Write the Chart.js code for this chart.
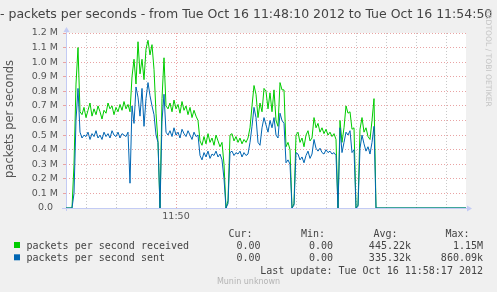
<!DOCTYPE html>
<html>
<head>
<meta charset="utf-8">
<script src="https://cdn.jsdelivr.net/npm/chart.js@4/dist/chart.umd.min.js"></script>
<style>
html,body{margin:0;padding:0;background:#f0f0f0;}
canvas{display:block;}
</style>
</head>
<body>
<canvas id="c" width="497" height="292"></canvas>
<script>
// ---- data (packets per second, in thousands), one sample every 2 s from 11:48:10 ----
const STEP_SECONDS = 2;
const received = [
  0,0,0,0,300,850,1100,660,640,690,620,670,720,630,680,640,700,660,610,670,
  650,720,680,700,640,690,660,710,670,730,680,710,660,900,1020,850,1140,920,1020,880,
  1090,1150,1050,1120,950,650,450,0,750,1030,700,680,720,660,740,680,710,650,730,670,
  700,640,690,620,670,630,600,460,430,490,440,510,450,480,430,500,460,420,450,300,
  0,50,500,510,460,490,450,480,440,470,450,480,550,700,840,780,620,720,660,820,
  800,680,790,660,810,600,560,860,810,810,420,450,400,0,30,500,520,450,480,420,
  500,530,460,480,620,550,580,520,550,510,540,500,520,490,510,470,0,600,450,550,
  700,650,660,540,550,0,20,540,620,520,550,490,470,600,750,0,
  0,0,0,0,0,0,0,0,0,0,0,0,0,0,0,0,0,0,0,0,0,0,0,0,0,0,0,0,0,0,0,0,0,0,0,0,0,0,0,0,0,0,0,0,0
];
const sent = [
  0,0,0,0,100,600,820,520,480,500,490,520,470,510,490,530,480,500,470,520,
  490,510,480,530,500,490,520,480,510,500,490,520,170,700,580,830,760,630,820,560,
  750,860,770,700,640,500,450,0,600,780,520,500,530,490,550,500,520,480,540,510,
  490,530,500,470,520,490,500,360,330,380,350,390,340,370,360,390,350,370,330,200,
  0,30,380,390,360,380,370,390,350,380,360,370,450,560,690,620,450,430,550,620,
  570,520,600,550,620,500,480,650,600,580,310,330,300,0,20,380,370,330,350,310,
  360,390,340,370,470,410,390,410,380,370,400,380,390,370,380,360,0,550,380,450,
  520,500,530,380,400,0,10,410,500,440,390,420,370,450,560,0,
  0,0,0,0,0,0,0,0,0,0,0,0,0,0,0,0,0,0,0,0,0,0,0,0,0,0,0,0,0,0,0,0,0,0,0,0,0,0,0,0,0,0,0,0,0
];
// vertical grid positions (seconds after 11:48:10) and labels
const gridSeconds = [20,50,80,110,140,170,200,230,260,290,320,350,380];
const timeLabels = {110: '11:50'};
const yTickLabels = ['0.0','0.1 M','0.2 M','0.3 M','0.4 M','0.5 M','0.6 M','0.7 M','0.8 M','0.9 M','1.0 M','1.1 M','1.2 M'];
const seriesNames = ['packets per second received','packets per second sent'];
const seriesColors = ['#00CC00','#0066B3'];
const statsCur = ['0.00','0.00'];
const statsMin = ['0.00','0.00'];
const statsAvg = ['445.22k','335.32k'];
const statsMax = ['1.15M','860.09k'];
const titleText = '- packets per seconds - from Tue Oct 16 11:48:10 2012 to Tue Oct 16 11:54:50';
const yTitle = 'packets per seconds';
const lastUpdate = 'Last update: Tue Oct 16 11:58:17 2012';

const toPoints = arr => arr.map((v, i) => ({x: i * STEP_SECONDS, y: v * 1000}));

const AXIS = '#c3cbf4';
const MGRID = '#e9a3a3';
const GRID = '#c8c8c8';

const bgPlugin = {
  id: 'bg',
  beforeDraw(chart) {
    const {ctx, chartArea: a} = chart;
    ctx.save();
    ctx.fillStyle = '#f0f0f0';
    ctx.fillRect(0, 0, chart.width, chart.height);
    ctx.fillStyle = '#ffffff';
    ctx.fillRect(a.left, a.top, a.right - a.left, a.bottom - a.top);
    ctx.restore();
  },
  beforeDatasetsDraw(chart) {
    const {ctx, chartArea: a} = chart;
    const y0 = chart.scales.y.getPixelForValue(0);
    ctx.save();
    ctx.strokeStyle = AXIS; ctx.fillStyle = AXIS; ctx.lineWidth = 1;
    ctx.beginPath();
    ctx.moveTo(62, Math.round(y0) + 0.5); ctx.lineTo(468, Math.round(y0) + 0.5);
    ctx.moveTo(a.left + 0.5, Math.round(y0) + 3); ctx.lineTo(a.left + 0.5, 30);
    ctx.stroke();
    ctx.beginPath();
    ctx.moveTo(467, Math.round(y0) - 2.5); ctx.lineTo(472, Math.round(y0) + 0.5); ctx.lineTo(467, Math.round(y0) + 3.5);
    ctx.closePath(); ctx.fill();
    ctx.beginPath();
    ctx.moveTo(a.left - 2.5, 32); ctx.lineTo(a.left + 0.5, 27); ctx.lineTo(a.left + 3.5, 32);
    ctx.closePath(); ctx.fill();
    ctx.restore();
  },
  afterDraw(chart) {
    const {ctx} = chart;
    ctx.save();
    // title
    ctx.fillStyle = '#444';
    ctx.font = '12.5px "DejaVu Sans"';
    ctx.textAlign = 'left'; ctx.textBaseline = 'alphabetic';
    ctx.fillText(titleText, 0, 18);
    // y axis title
    ctx.save();
    ctx.translate(13, 119);
    ctx.rotate(-Math.PI / 2);
    ctx.font = '11.5px "DejaVu Sans"';
    ctx.fillStyle = '#555';
    ctx.textAlign = 'center';
    ctx.fillText(yTitle, 0, 0);
    ctx.restore();
    // rrdtool watermark
    ctx.save();
    ctx.translate(486, 9);
    ctx.rotate(Math.PI / 2);
    ctx.font = '7.6px "DejaVu Sans"';
    ctx.fillStyle = '#c4c4c4';
    ctx.textAlign = 'left';
    ctx.fillText('RRDTOOL / TOBI OETIKER', 0, 0);
    ctx.restore();
    // legend
    ctx.font = '10px "DejaVu Sans Mono"';
    ctx.fillStyle = '#444';
    ctx.textAlign = 'right';
    ctx.fillText('Cur:', 252.5, 237);
    ctx.fillText('Min:', 325, 237);
    ctx.fillText('Avg:', 397.5, 237);
    ctx.fillText('Max:', 469.5, 237);
    const rows = [249, 261.3];
    for (let i = 0; i < 2; i++) {
      const by = rows[i];
      ctx.fillStyle = seriesColors[i];
      ctx.fillRect(14, by - 7, 6, 6);
      ctx.fillStyle = '#444';
      ctx.textAlign = 'left';
      ctx.fillText(seriesNames[i], 26.5, by);
      ctx.textAlign = 'right';
      ctx.fillText(statsCur[i], 260.5, by);
      ctx.fillText(statsMin[i], 333, by);
      ctx.fillText(statsAvg[i], 411, by);
      ctx.fillText(statsMax[i], 483, by);
    }
    ctx.fillText(lastUpdate, 483, 273.6);
    ctx.font = '8px "DejaVu Sans"';
    ctx.fillStyle = '#b4b4b4';
    ctx.textAlign = 'center';
    ctx.fillText('Munin unknown', 248.5, 284);
    ctx.restore();
  }
};

new Chart(document.getElementById('c'), {
  type: 'line',
  data: {
    datasets: [
      {label: seriesNames[0], data: toPoints(received), borderColor: seriesColors[0], order: 1},
      {label: seriesNames[1], data: toPoints(sent), borderColor: seriesColors[1], order: 0}
    ]
  },
  options: {
    responsive: false,
    animation: false,
    devicePixelRatio: 1,
    layout: {padding: {left: 0, right: 31, top: 33, bottom: 0}},
    plugins: {legend: {display: false}, tooltip: {enabled: false}, title: {display: false}},
    elements: {point: {radius: 0}, line: {borderWidth: 1, tension: 0, fill: false}},
    scales: {
      x: {
        type: 'linear', min: 0, max: 400,
        afterBuildTicks: s => { s.ticks = gridSeconds.map(v => ({value: v})); },
        afterFit: s => { s.height = 84; },
        ticks: {
          autoSkip: false, maxRotation: 0, padding: 3,
          callback: v => timeLabels[v] || '',
          color: '#555', font: {family: 'DejaVu Sans', size: 9.5}
        },
        grid: {
          drawTicks: false, lineWidth: 1,
          color: c => (c.tick && timeLabels[c.tick.value]) ? MGRID : GRID
        },
        border: {display: false, dash: [1, 2]}
      },
      y: {
        min: 0, max: 1200000,
        afterFit: s => { s.width = 66; },
        ticks: {
          stepSize: 100000, padding: 5,
          callback: (v, i) => (i === 0 ? yTickLabels[0] + ' \u2009' : yTickLabels[i]),
          color: '#555', font: {family: 'DejaVu Sans', size: 9.5}
        },
        grid: {drawTicks: true, tickLength: 3, lineWidth: 1, color: MGRID, tickColor: MGRID},
        border: {display: false, dash: [1, 2]}
      }
    }
  },
  plugins: [bgPlugin]
});
</script>
</body>
</html>
